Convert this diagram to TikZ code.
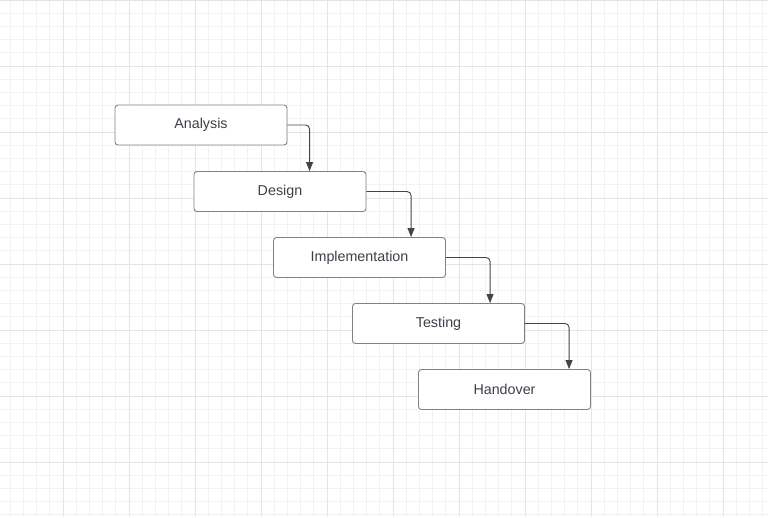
\documentclass[tikz,border=0pt]{standalone}
\usepackage{fontspec}
\setmainfont{Liberation Sans}
\usetikzlibrary{arrows.meta, positioning}
\definecolor{gridminor}{HTML}{F2F2F2}
\definecolor{gridmajor}{HTML}{E5E5E5}
\definecolor{boxline}{HTML}{7E8288}
\definecolor{flowline}{HTML}{40454C}
\definecolor{textgray}{HTML}{3C4149}

\begin{document}
\begin{tikzpicture}[x=1pt, y=-1pt, on grid,
    phase/.style={draw=boxline, fill=white, line width=0.9pt, rounded corners=3pt,
        minimum width=172pt, minimum height=40pt, inner sep=0pt,
        text=textgray, font=\fontsize{14.3}{16}\selectfont},
    flow/.style={-{Triangle[length=9pt,width=7pt]}, draw=flowline,
        line width=0.9pt, rounded corners=4pt}]
    \useasboundingbox (0,0) rectangle (768,517);
    % background grid
    \foreach \gx in {0,...,57}
        \draw[gridminor, line width=0.8pt] (10.2+13.2*\gx,0) -- (10.2+13.2*\gx,517);
    \foreach \gy in {0,...,39}
        \draw[gridminor, line width=0.8pt] (0,13.2*\gy) -- (768,13.2*\gy);
    \foreach \gx in {0,...,10}
        \draw[gridmajor, line width=0.9pt] (63+66*\gx,0) -- (63+66*\gx,517);
    \foreach \gy in {0,...,7}
        \draw[gridmajor, line width=0.9pt] (0,66*\gy) -- (768,66*\gy);

    \node[phase] (ana) at (201,125) {Analysis};
    \node[phase, below right=66.5pt and 79pt of ana] (des) {Design};
    \node[phase, below right=66pt and 79.5pt of des] (imp) {Implementation};
    \node[phase, below right=66pt and 79pt of imp] (tst) {Testing};
    \node[phase, below right=66pt and 66pt of tst] (hnd) {Handover};

    \draw[flow] (ana.east) -| ([xshift=116pt]des.north west);
    \draw[flow] (des.east) -| ([xshift=138pt]imp.north west);
    \draw[flow] (imp.east) -| ([xshift=138pt]tst.north west);
    \draw[flow] (tst.east) -| ([xshift=151pt]hnd.north west);
\end{tikzpicture}
\end{document}
